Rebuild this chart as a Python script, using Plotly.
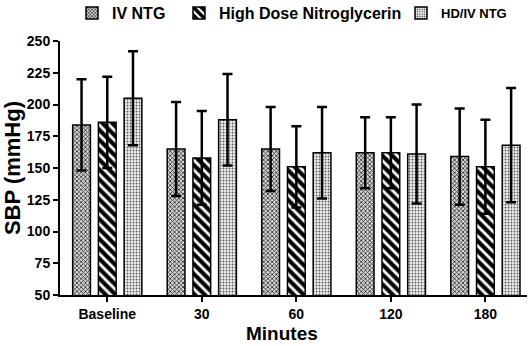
import plotly.graph_objects as go

categories = ["Baseline", "30", "60", "120", "180"]
series_names = ["IV NTG", "High Dose Nitroglycerin", "HD/IV NTG"]
iv_ntg = [184, 165, 165, 162, 159]
iv_ntg_err = [36, 37, 33, 28, 38]
hd_ntg = [186, 158, 151, 162, 151]
hd_ntg_err = [36, 37, 32, 28, 37]
hdiv_ntg = [205, 188, 162, 161, 168]
hdiv_ntg_err = [37, 36, 36, 39, 45]
y_ticks = [50, 75, 100, 125, 150, 175, 200, 225, 250]

font = "Liberation Sans, Arial, sans-serif"

patterns = [
    dict(shape="x", fgcolor="#222222", bgcolor="#d8d8d8", size=3, solidity=0.45, fillmode="replace"),
    dict(shape="\\", fgcolor="#000000", bgcolor="#ffffff", size=7, solidity=0.6, fillmode="replace"),
    dict(shape=".", fgcolor="#555555", bgcolor="#f4f4f4", size=3, solidity=0.35, fillmode="replace"),
]
values = [iv_ntg, hd_ntg, hdiv_ntg]
errs = [iv_ntg_err, hd_ntg_err, hdiv_ntg_err]
legends = ["legend", "legend2", "legend3"]

fig = go.Figure()
for i in range(3):
    fig.add_trace(go.Bar(
        x=categories, y=values[i], name=series_names[i],
        legend=legends[i], showlegend=True,
        marker=dict(color="white", pattern=patterns[i], line=dict(color="black", width=1.5)),
        error_y=dict(type="data", array=errs[i], visible=True, color="black", thickness=2.5, width=5),
    ))

leg_common = dict(orientation="h", xref="container", yref="container", yanchor="middle",
                  bgcolor="rgba(0,0,0,0)", borderwidth=0, itemclick=False, visible=True)
fig.update_layout(
    showlegend=True,
    legend=dict(x=72/530, y=1 - 13/346, font=dict(family=font, size=16, color="black", weight="bold"), **leg_common),
    legend2=dict(x=179/530, y=1 - 13/346, font=dict(family=font, size=16, color="black", weight="bold"), **leg_common),
    legend3=dict(x=401/530, y=1 - 13/346, font=dict(family=font, size=13, color="black", weight="bold"), **leg_common),
    barmode="group",
    bargap=0.184,
    bargroupgap=0.31,
    width=530, height=346,
    margin=dict(l=60, r=3, t=37, b=51),
    plot_bgcolor="white", paper_bgcolor="white",
    xaxis=dict(
        type="category", range=[-0.5, 4.44],
        showline=True, linecolor="black", linewidth=2,
        ticks="outside", ticklen=5, tickwidth=2, tickcolor="black",
        tickfont=dict(family=font, size=14, color="black", weight="bold"),
        showgrid=False, zeroline=False,
    ),
    yaxis=dict(
        range=[50, 250], tickvals=y_ticks,
        showline=True, linecolor="black", linewidth=2,
        ticks="outside", ticklen=5, tickwidth=2, tickcolor="black",
        tickfont=dict(family=font, size=14, color="black", weight="bold"),
        title=dict(text="SBP (mmHg)", font=dict(family=font, size=22, color="black", weight="bold"), standoff=2),
        showgrid=False, zeroline=False,
    ),
    annotations=[dict(
        text="Minutes", xref="paper", yref="paper",
        x=(282 - 60) / 467, y=-(321 - 295) / 258,
        xanchor="center", yanchor="top", showarrow=False,
        font=dict(family=font, size=19, color="black", weight="bold"),
    )],
)
fig.write_html("out.html")
